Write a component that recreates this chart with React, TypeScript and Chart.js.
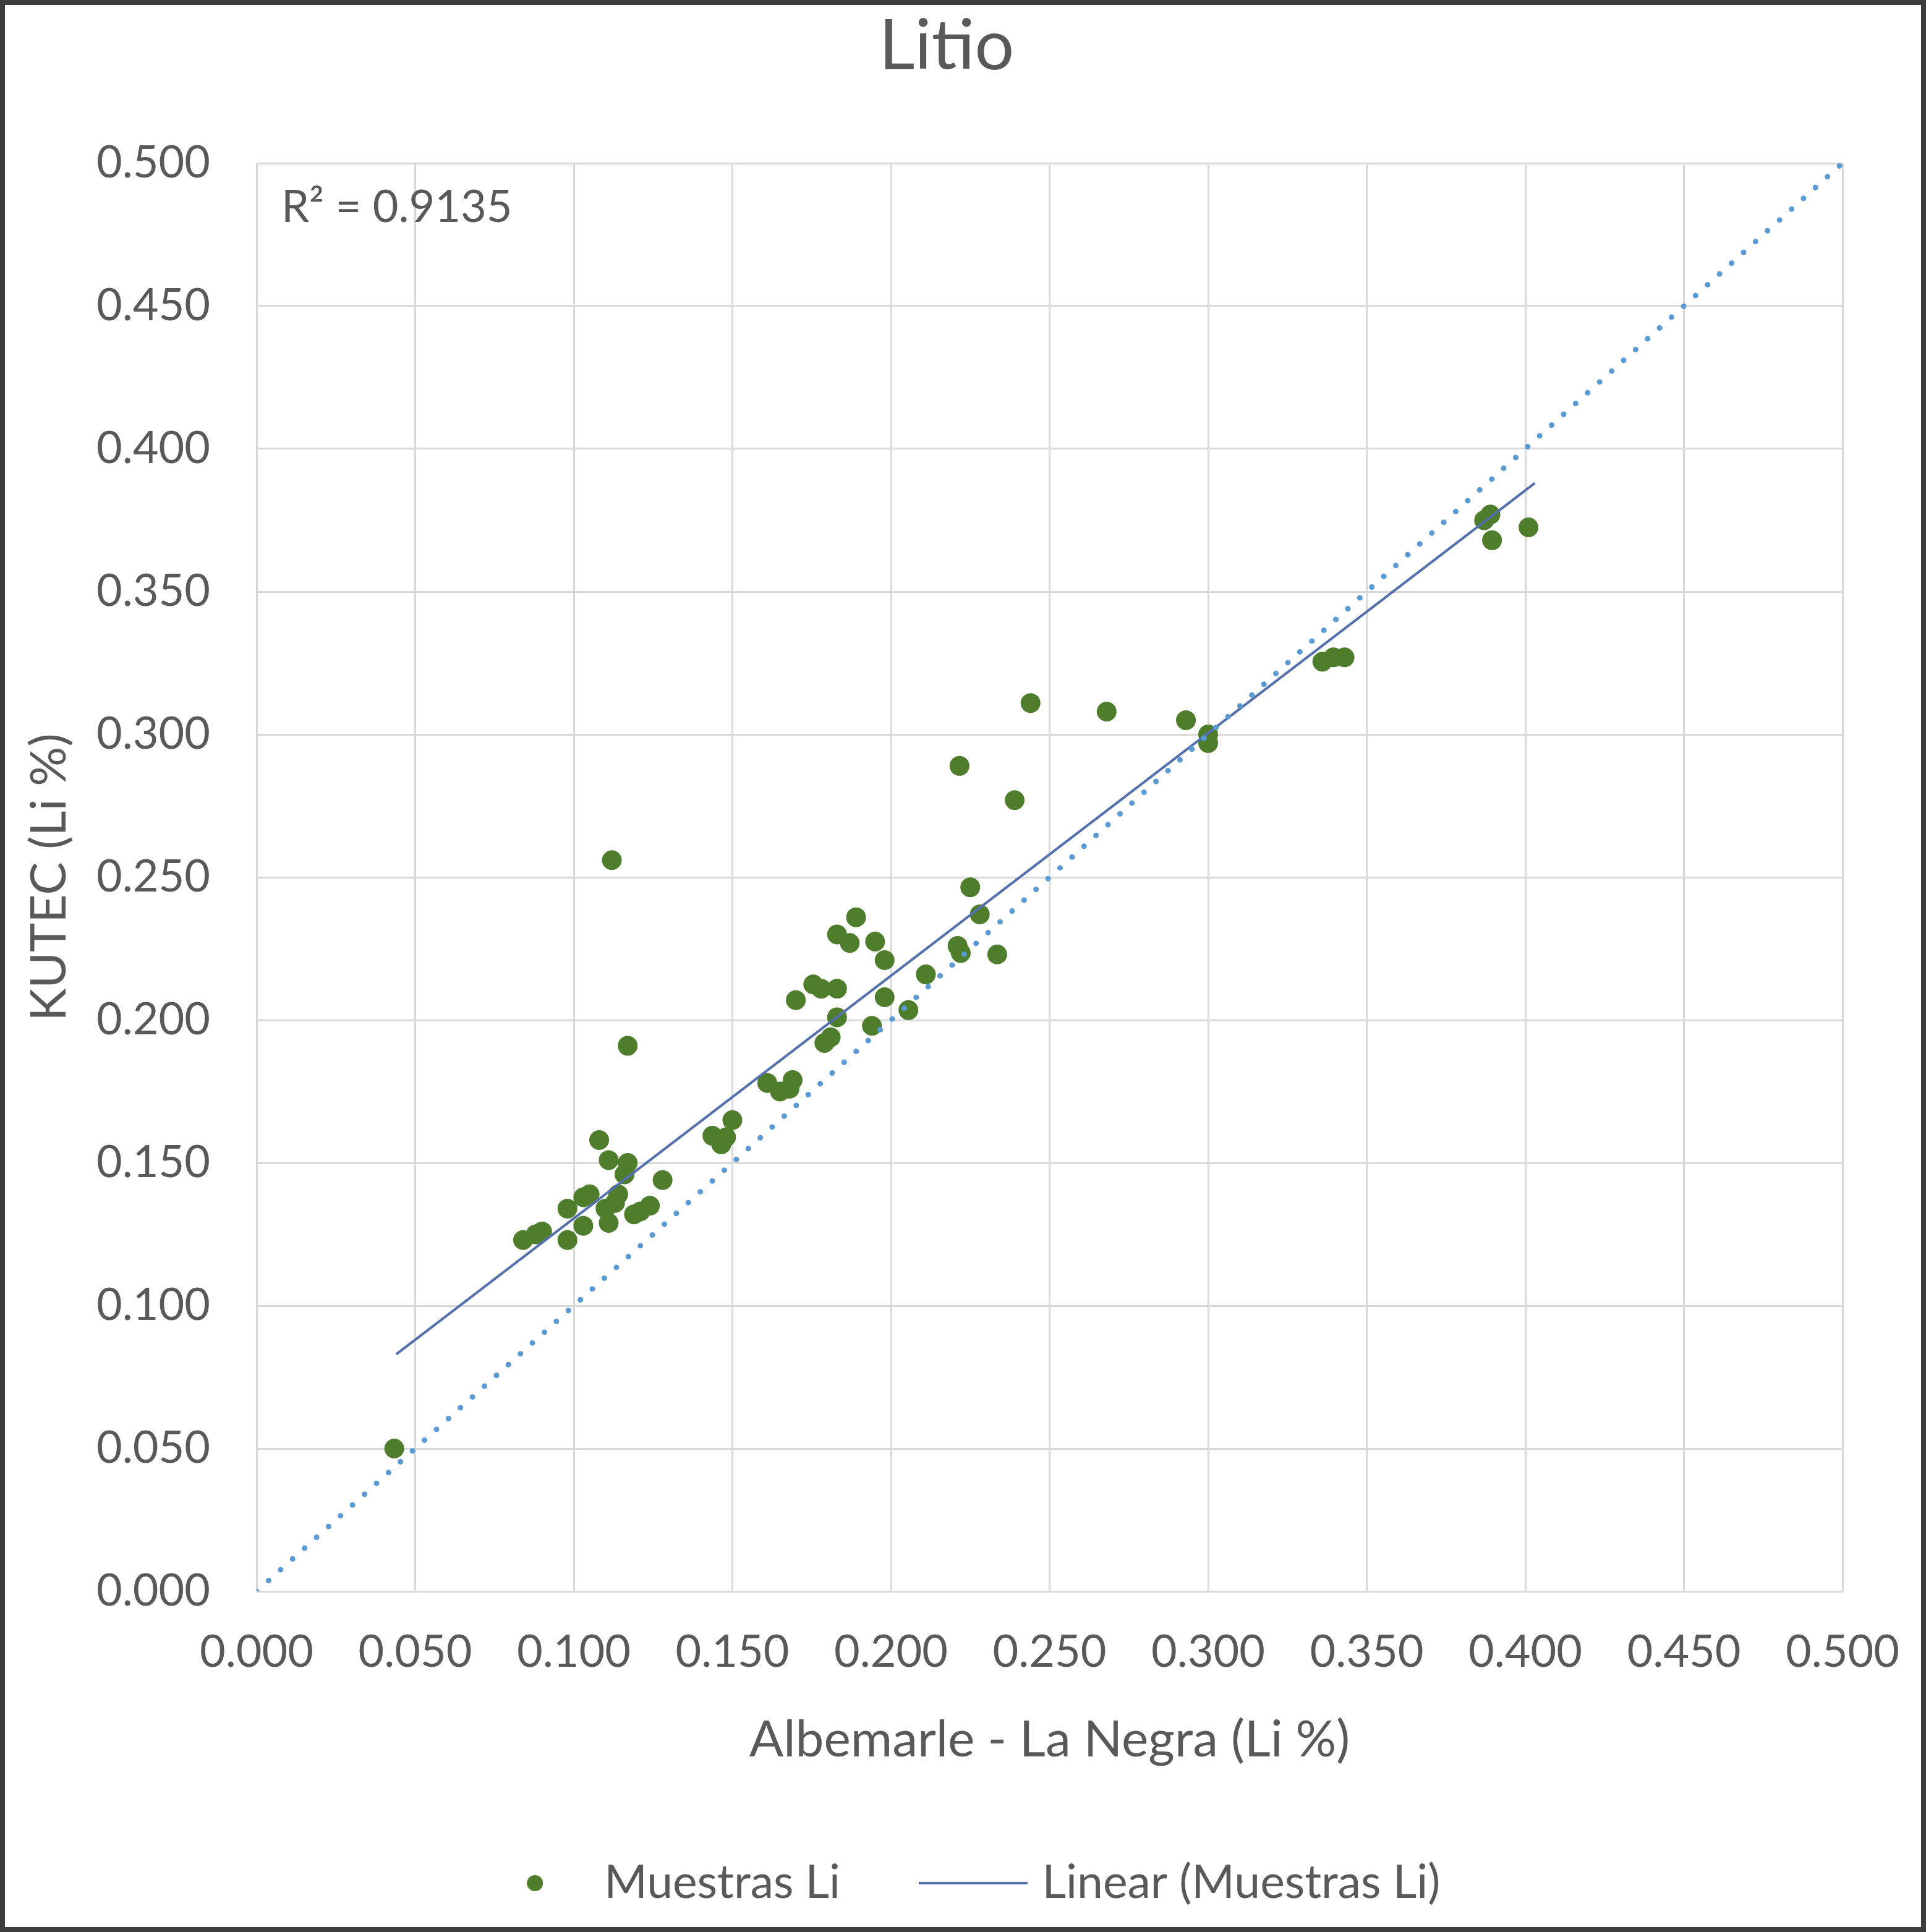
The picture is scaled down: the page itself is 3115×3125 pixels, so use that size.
import React, { useEffect, useRef } from "react";
import { Chart, registerables } from "chart.js";

Chart.register(...registerables);

const W = 3115;
const H = 3125;

// Albemarle - La Negra (Li %) values
const albemarle = [
  0.0434, 0.108, 0.111, 0.117, 0.116, 0.128, 0.105, 0.103, 0.098, 0.114, 0.11, 0.111, 0.103, 0.098, 0.084, 0.09,
  0.119, 0.124, 0.088, 0.113, 0.121, 0.117, 0.112,
  0.1437, 0.1465, 0.15, 0.148,
  0.161, 0.165, 0.168, 0.169,
  0.17, 0.1755, 0.178, 0.183, 0.183, 0.187, 0.189, 0.195, 0.198, 0.198, 0.2055, 0.183, 0.194, 0.181, 0.179, 0.211,
  0.221, 0.222, 0.2335, 0.225, 0.228,
  0.2216, 0.239, 0.244, 0.268, 0.293, 0.3, 0.3, 0.336, 0.3395, 0.343, 0.387, 0.389, 0.3895, 0.401,
];
// KUTEC (Li %) values
const kutec = [
  0.05, 0.158, 0.151, 0.15, 0.146, 0.144, 0.139, 0.138, 0.134, 0.139, 0.134, 0.129, 0.128, 0.123, 0.123, 0.126,
  0.132, 0.135, 0.125, 0.136, 0.133, 0.191, 0.256,
  0.1595, 0.1565, 0.165, 0.159,
  0.178, 0.175, 0.176, 0.179,
  0.207, 0.2125, 0.211, 0.211, 0.23, 0.227, 0.236, 0.2275, 0.221, 0.208, 0.2035, 0.201, 0.198, 0.194, 0.192, 0.216,
  0.226, 0.2235, 0.223, 0.2465, 0.237,
  0.289, 0.277, 0.311, 0.308, 0.305, 0.3, 0.297, 0.3255, 0.327, 0.327, 0.375, 0.377, 0.368, 0.3725,
];

// Linear trendline endpoints
const trendX = [0.044, 0.403];
const trendY = [0.083, 0.388];
// 1:1 reference line
const identityX = [0, 0.5];
const identityY = [0, 0.5];

const xTicks = [0, 0.05, 0.1, 0.15, 0.2, 0.25, 0.3, 0.35, 0.4, 0.45, 0.5];
const xTickLabels = ["0.000", "0.050", "0.100", "0.150", "0.200", "0.250", "0.300", "0.350", "0.400", "0.450", "0.500"];
const yTicks = [0, 0.05, 0.1, 0.15, 0.2, 0.25, 0.3, 0.35, 0.4, 0.45, 0.5];
const yTickLabels = ["0.000", "0.050", "0.100", "0.150", "0.200", "0.250", "0.300", "0.350", "0.400", "0.450", "0.500"];

const titleText = "Litio";
const xTitle = "Albemarle - La Negra (Li %)";
const yTitle = "KUTEC (Li %)";
const seriesLabel = "Muestras Li";
const trendLabel = "Linear (Muestras Li)";
const r2Text = "R² = 0.9135";

const GREEN = "#4E7D2C";
const TREND = "#5470AC";
const DOTTED = "#5B9BD5";
const TEXT = "#595959";
const GRID = "#D9D9D9";
const FONT = "Lato";

function toPoints(xs: number[], ys: number[]) {
  return xs.map((x, i) => ({ x, y: ys[i] }));
}

export default function App() {
  const ref = useRef<HTMLCanvasElement | null>(null);

  useEffect(() => {
    document.body.style.margin = "0";
    const canvas = ref.current;
    if (!canvas) return;

    const dot = document.createElement("canvas");
    dot.width = 26;
    dot.height = 26;
    const dctx = dot.getContext("2d")!;
    dctx.fillStyle = GREEN;
    dctx.beginPath();
    dctx.arc(13, 13, 13, 0, Math.PI * 2);
    dctx.fill();

    const line = document.createElement("canvas");
    line.width = 176;
    line.height = 6;
    const lctx = line.getContext("2d")!;
    lctx.fillStyle = TREND;
    lctx.fillRect(0, 1, 176, 4);

    const decor = {
      id: "decor",
      afterLayout(chart: any) {
        // centre the title slightly left, as in the original
        if (chart.titleBlock) chart.titleBlock.left = 82;
      },
      beforeDraw(chart: any) {
        const c = chart.ctx;
        c.save();
        c.fillStyle = "#ffffff";
        c.fillRect(0, 0, W, H);
        c.restore();
      },
      afterDraw(chart: any) {
        const c = chart.ctx;
        c.save();
        c.font = `72px ${FONT}`;
        c.fillStyle = TEXT;
        c.textBaseline = "middle";
        c.textAlign = "left";
        c.fillText(r2Text, chart.chartArea.left + 40, chart.chartArea.top + 72);
        c.strokeStyle = "#3c3c3c";
        c.lineWidth = 8;
        c.strokeRect(4, 4, W - 8, H - 8);
        c.restore();
      },
    };

    const chart = new Chart(canvas, {
      type: "scatter",
      data: {
        datasets: [
          {
            label: "1:1",
            data: toPoints(identityX, identityY),
            showLine: true,
            borderColor: DOTTED,
            borderWidth: 9,
            borderDash: [0.1, 26],
            borderCapStyle: "round",
            pointRadius: 0,
          },
          {
            label: trendLabel,
            data: toPoints(trendX, trendY),
            showLine: true,
            borderColor: TREND,
            borderWidth: 4,
            pointRadius: 0,
          },
          {
            label: seriesLabel,
            data: toPoints(albemarle, kutec),
            backgroundColor: GREEN,
            borderColor: GREEN,
            borderWidth: 0,
            pointRadius: 16,
          },
        ],
      } as any,
      options: {
        responsive: false,
        animation: false,
        devicePixelRatio: 1,
        events: [],
        layout: { padding: { left: 140, right: 135, top: 8, bottom: 31.5 } },
        font: { family: FONT },
        plugins: {
          tooltip: { enabled: false },
          title: {
            display: true,
            text: titleText,
            color: TEXT,
            font: { family: FONT, size: 113, weight: "normal", lineHeight: 1.2 },
            padding: { top: 0, bottom: 120.4 },
          },
          legend: {
            display: true,
            position: "bottom",
            labels: {
              usePointStyle: true,
              pointStyleWidth: 149,
              padding: 140,
              color: TEXT,
              font: { family: FONT, size: 75 },
              generateLabels: () => [
                { text: seriesLabel, pointStyle: dot, fontColor: TEXT, hidden: false, datasetIndex: 2, lineWidth: 0, strokeStyle: GREEN, fillStyle: GREEN },
                { text: trendLabel, pointStyle: line, fontColor: TEXT, hidden: false, datasetIndex: 1, lineWidth: 0, strokeStyle: TREND, fillStyle: TREND },
              ] as any,
            },
          },
        },
        scales: {
          x: {
            type: "linear",
            min: 0,
            max: 0.5,
            afterBuildTicks: (s: any) => {
              s.ticks = xTicks.map((v) => ({ value: v }));
            },
            afterFit: (s: any) => {
              s.height = 294.5;
            },
            grid: { color: GRID, lineWidth: 3, drawTicks: true, tickLength: 56, tickColor: "rgba(0,0,0,0)" },
            border: { display: false },
            ticks: {
              color: TEXT,
              font: { family: FONT, size: 72 },
              padding: 0,
              maxRotation: 0,
              autoSkip: false,
              callback: (_v: any, i: number) => xTickLabels[i],
            },
            title: {
              display: true,
              text: xTitle,
              color: TEXT,
              font: { family: FONT, size: 82, lineHeight: 1.2 },
              padding: { top: 0, bottom: 4.5 },
            },
          },
          y: {
            type: "linear",
            min: 0,
            max: 0.5,
            afterBuildTicks: (s: any) => {
              s.ticks = yTicks.map((v) => ({ value: v }));
            },
            afterFit: (s: any) => {
              s.width = 275;
            },
            grid: { color: GRID, lineWidth: 3, drawTicks: false },
            border: { display: false },
            ticks: {
              color: TEXT,
              font: { family: FONT, size: 72 },
              padding: 75,
              autoSkip: false,
              callback: (_v: any, i: number) => yTickLabels[i],
            },
            title: {
              display: true,
              text: yTitle,
              color: TEXT,
              font: { family: FONT, size: 80, lineHeight: 1.2 },
              padding: { top: -108, bottom: 0 },
            },
          },
        },
      } as any,
      plugins: [decor],
    });

    return () => chart.destroy();
  }, []);

  return (
    <canvas
      ref={ref}
      width={W}
      height={H}
      style={{ display: "block", width: W + "px", height: H + "px" }}
    />
  );
}
